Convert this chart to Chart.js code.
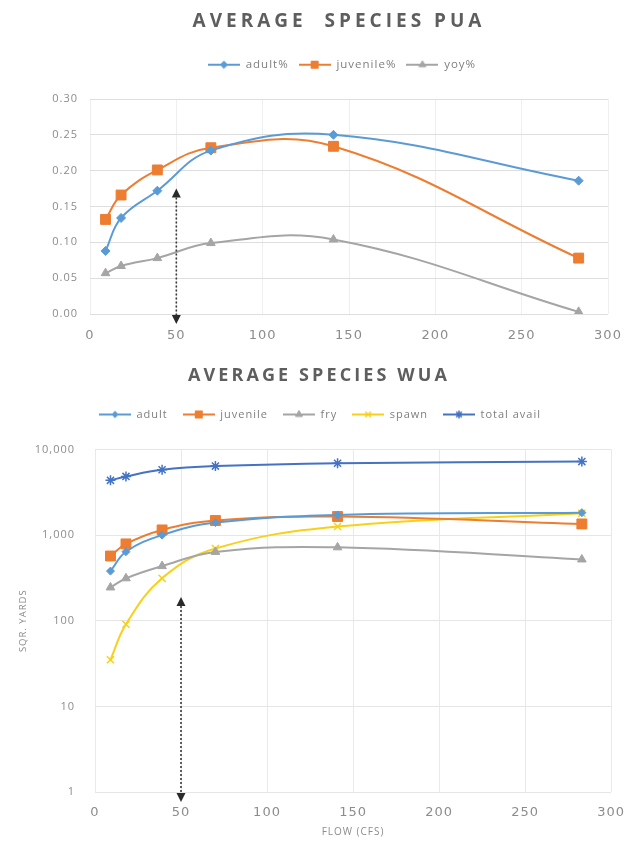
<!DOCTYPE html>
<html>
<head>
<meta charset="utf-8">
<title>Average Species PUA / WUA</title>
<script src="https://cdn.jsdelivr.net/npm/chart.js@4.4.1/dist/chart.umd.min.js"></script>
<style>
  html, body { margin: 0; padding: 0; background: #ffffff; }
  #page { position: relative; width: 638px; height: 852px; overflow: hidden; background: #ffffff; }
  .ttl {
    position: absolute; left: 0; width: 638px; text-align: center;
    font-family: "Open Sans", "DejaVu Sans", sans-serif; font-weight: 700;
    color: #5e5e5e; white-space: pre; line-height: 1; box-sizing: border-box;
  }
  #ttlPua { top: 11px; font-size: 19px; letter-spacing: 4px; padding-left: 40px; }
  #ttlWua { top: 365px; font-size: 18px; letter-spacing: 3.1px; padding-left: 0px; }
  #puaWrap { position: absolute; left: 0; top: 0; width: 638px; height: 345px; }
  #wuaWrap { position: absolute; left: 0; top: 345px; width: 638px; height: 507px; }
  canvas { display: block; }
</style>
</head>
<body>
<div id="page">
  <div id="puaWrap"><canvas id="puaCanvas" width="638" height="345"></canvas></div>
  <div id="wuaWrap"><canvas id="wuaCanvas" width="638" height="507"></canvas></div>
  <div class="ttl" id="ttlPua">AVERAGE  SPECIES PUA</div>
  <div class="ttl" id="ttlWua">AVERAGE SPECIES WUA</div>
</div>
<script>
// ---- flow values (cfs) shared by both charts ----
const flows = [9, 18, 39, 70, 141, 283];

// ---- percent usable area ----
const puaAdult    = [0.088, 0.134, 0.172, 0.228, 0.250, 0.186];
const puaJuvenile = [0.132, 0.166, 0.201, 0.232, 0.234, 0.078];
const puaYoy      = [0.057, 0.067, 0.078, 0.099, 0.104, 0.003];

// ---- weighted usable area (sq. yards) ----
const wuaAdult    = [380, 640, 1000, 1400, 1720, 1830];
const wuaJuvenile = [570, 790, 1150, 1480, 1650, 1350];
const wuaFry      = [245, 313, 435, 637, 720, 520];
const wuaSpawn    = [35, 91, 313, 697, 1260, 1800];
const wuaTotal    = [4360, 4850, 5800, 6400, 6920, 7230];

// ---- axis ticks ----
const flowTicks = [0, 50, 100, 150, 200, 250, 300];
const puaTicks  = [0, 0.05, 0.10, 0.15, 0.20, 0.25, 0.30];
const wuaTicks  = [1, 10, 100, 1000, 10000];

// ---- reference flow marker ----
const markerFlow   = 50;
const markerPuaTop = 0.175;
const markerWuaTop = 190;

const BLUE = '#5b9bd5', ORANGE = '#ed7d31', GRAY = '#a5a5a5', YELLOW = '#f7d117', DKBLUE = '#4472c4';
const TICK_COLOR = '#8c8c8c';

function pts(ys) { return flows.map((x, i) => ({ x: x, y: ys[i] })); }

function series(label, ys, color, style, radius, extra) {
  return Object.assign({
    label: label,
    data: pts(ys),
    borderColor: color,
    backgroundColor: color,
    borderWidth: 2,
    tension: 0.4,
    pointStyle: style,
    pointRadius: radius,
    pointHoverRadius: radius,
    pointBackgroundColor: color,
    pointBorderColor: color,
    pointBorderWidth: 1
  }, extra || {});
}

// small line-with-marker swatch used as the legend symbol
function legendIcon(ds) {
  const c = document.createElement('canvas');
  c.width = 32; c.height = 12;
  const g = c.getContext('2d');
  g.strokeStyle = ds.borderColor; g.lineWidth = 2;
  g.beginPath(); g.moveTo(0, 6); g.lineTo(32, 6); g.stroke();
  g.fillStyle = ds.pointBackgroundColor; g.strokeStyle = ds.pointBorderColor;
  g.lineWidth = Math.max(1, ds.pointBorderWidth);
  const r = Math.min(ds.pointRadius * 0.8, 5);
  if (Chart.helpers && Chart.helpers.drawPoint) {
    Chart.helpers.drawPoint(g, { pointStyle: ds.pointStyle, radius: r, borderWidth: g.lineWidth, rotation: 0 }, 16, 6);
  }
  return c;
}

function legendLabels(chart) {
  const items = Chart.defaults.plugins.legend.labels.generateLabels(chart);
  items.forEach(it => { it.pointStyle = legendIcon(chart.data.datasets[it.datasetIndex]); });
  return items;
}

// empty layout box that keeps the legend clear of the plot area,
// plus an optional sideways nudge of the legend row
const legendGap = {
  id: 'legendGap',
  beforeInit(chart, args, opts) {
    const box = {
      position: 'top', weight: 10, fullSize: true, options: {},
      left: 0, top: 0, right: 0, bottom: 0, width: 0, height: 0,
      isHorizontal() { return true; },
      update(maxWidth) { this.width = maxWidth; this.height = opts.size || 0; return this.height; },
      getPadding() { return { top: 0, left: 0, right: 0, bottom: 0 }; },
      draw() {}
    };
    Chart.layouts.addBox(chart, box);
  },
  afterLayout(chart, args, opts) {
    const dx = opts.shift || 0;
    if (dx && chart.legend) { chart.legend.left += dx; chart.legend.right += dx; }
  }
};

// slight tracking on all canvas text
const tracking = {
  id: 'tracking',
  beforeLayout(chart) { chart.ctx.letterSpacing = '1px'; },
  beforeDraw(chart) { chart.ctx.letterSpacing = '1px'; }
};

// dotted double-headed arrow marking the reference flow
const flowMarker = {
  id: 'flowMarker',
  afterDatasetsDraw(chart, args, opts) {
    const ctx = chart.ctx, xs = chart.scales.x, ys = chart.scales.y;
    const x = xs.getPixelForValue(opts.flow);
    const yTop = ys.getPixelForValue(opts.top);
    const yBot = chart.chartArea.bottom + 10;
    const h = 9, w = 4.5;
    ctx.save();
    ctx.strokeStyle = '#3a3a3a'; ctx.fillStyle = '#2a2a2a';
    ctx.lineWidth = 1.6; ctx.setLineDash([2, 2]);
    ctx.beginPath(); ctx.moveTo(x, yTop + h); ctx.lineTo(x, yBot - h); ctx.stroke();
    ctx.setLineDash([]);
    ctx.beginPath(); ctx.moveTo(x, yTop); ctx.lineTo(x - w, yTop + h); ctx.lineTo(x + w, yTop + h); ctx.closePath(); ctx.fill();
    ctx.beginPath(); ctx.moveTo(x, yBot); ctx.lineTo(x - w, yBot - h); ctx.lineTo(x + w, yBot - h); ctx.closePath(); ctx.fill();
    ctx.restore();
  }
};

const tickFontY = { family: '"Open Sans", sans-serif', size: 11 };
const tickFontX = { family: '"DejaVu Sans", sans-serif', size: 13 };

// ---------------- PUA chart ----------------
new Chart(document.getElementById('puaCanvas'), {
  type: 'line',
  data: {
    datasets: [
      series('adult%', puaAdult, BLUE, 'rectRot', 4.5),
      series('juvenile%', puaJuvenile, ORANGE, 'rect', 7),
      series('yoy%', puaYoy, GRAY, 'triangle', 5)
    ]
  },
  plugins: [legendGap, tracking, flowMarker],
  options: {
    responsive: false,
    animation: false,
    devicePixelRatio: 1,
    layout: { padding: { left: 40, right: 30, top: 49, bottom: 0 } },
    plugins: {
      legendGap: { size: 18.5, shift: 18 },
      flowMarker: { flow: markerFlow, top: markerPuaTop },
      tooltip: { enabled: false },
      legend: {
        position: 'top',
        labels: {
          usePointStyle: true, pointStyleWidth: 32, padding: 10,
          color: '#7f7f7f', font: { family: '"Open Sans", sans-serif', size: 11.5 },
          generateLabels: legendLabels
        }
      }
    },
    scales: {
      x: {
        type: 'linear', min: 0, max: 300,
        afterBuildTicks: s => { s.ticks = flowTicks.map(v => ({ value: v })); },
        afterFit: s => { s.height = 31; },
        ticks: { padding: 14, color: TICK_COLOR, font: tickFontX, maxRotation: 0 },
        grid: { color: '#efefef', drawTicks: false },
        border: { display: false }
      },
      y: {
        min: 0, max: 0.3,
        afterBuildTicks: s => { s.ticks = puaTicks.map(v => ({ value: v })); },
        afterFit: s => { s.width = 50; },
        ticks: { padding: 12, color: TICK_COLOR, font: tickFontY, callback: v => Number(v).toFixed(2) },
        grid: { color: '#dedede', drawTicks: false },
        border: { display: false }
      }
    }
  }
});

// ---------------- WUA chart ----------------
new Chart(document.getElementById('wuaCanvas'), {
  type: 'line',
  data: {
    datasets: [
      series('adult', wuaAdult, BLUE, 'rectRot', 4),
      series('juvenile', wuaJuvenile, ORANGE, 'rect', 7),
      series('fry', wuaFry, GRAY, 'triangle', 5),
      series('spawn', wuaSpawn, YELLOW, 'crossRot', 5, { pointBorderWidth: 1.5 }),
      series('total avail', wuaTotal, DKBLUE, 'star', 5, { pointBorderWidth: 1.5 })
    ]
  },
  plugins: [legendGap, tracking, flowMarker],
  options: {
    responsive: false,
    animation: false,
    devicePixelRatio: 1,
    layout: { padding: { left: 23, right: 21, top: 49, bottom: 0 } },
    plugins: {
      legendGap: { size: 19.5 },
      flowMarker: { flow: markerFlow, top: markerWuaTop },
      tooltip: { enabled: false },
      legend: {
        position: 'top',
        labels: {
          usePointStyle: true, pointStyleWidth: 32, padding: 15,
          color: '#7f7f7f', font: { family: '"Open Sans", sans-serif', size: 11 },
          generateLabels: legendLabels
        }
      }
    },
    scales: {
      x: {
        type: 'linear', min: 0, max: 300,
        afterBuildTicks: s => { s.ticks = flowTicks.map(v => ({ value: v })); },
        afterFit: s => { s.height = 60; },
        ticks: { padding: 13, color: TICK_COLOR, font: tickFontX, maxRotation: 0 },
        grid: { color: '#e9e9e9', drawTicks: false },
        border: { display: false },
        title: {
          display: true, text: 'FLOW (CFS)', color: '#8c8c8c',
          font: { family: '"Open Sans", sans-serif', size: 10 },
          padding: { top: 0, bottom: 14 }
        }
      },
      y: {
        type: 'logarithmic', min: 1, max: 10000,
        afterBuildTicks: s => { s.ticks = wuaTicks.map(v => ({ value: v })); },
        afterFit: s => { s.width = 72; },
        ticks: { padding: 20, color: TICK_COLOR, font: tickFontY, callback: v => Number(v).toLocaleString('en-US') },
        grid: { color: '#e6e6e6', drawTicks: false },
        border: { display: false },
        title: {
          display: true, text: 'SQR. YARDS', color: '#8c8c8c',
          font: { family: '"Open Sans", sans-serif', size: 9.5 },
          padding: { top: -5, bottom: 0 }
        }
      }
    }
  }
});
</script>
</body>
</html>
